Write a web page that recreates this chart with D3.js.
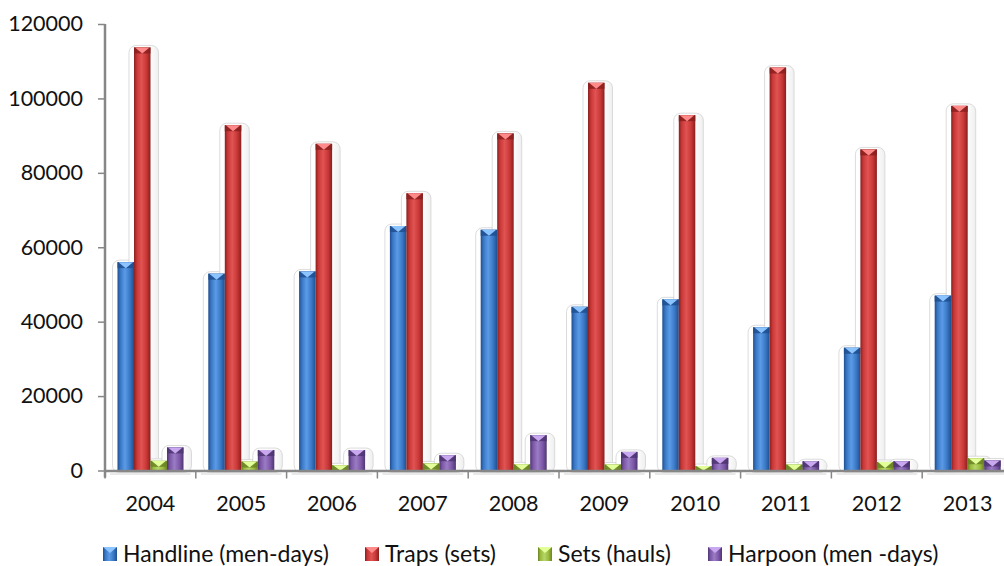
<!DOCTYPE html>
<html>
<head>
<meta charset="utf-8">
<script src="https://cdn.jsdelivr.net/npm/d3@7/dist/d3.min.js"></script>
<style>
  html, body { margin: 0; padding: 0; background: #ffffff; }
  svg { display: block; }
  text { font-family: "Lato", "Open Sans", sans-serif; fill: #111; }
</style>
</head>
<body>
<svg id="chart" width="1004" height="566"></svg>
<script>
// Fishing effort by gear type, 2004-2013
const years = ["2004", "2005", "2006", "2007", "2008", "2009", "2010", "2011", "2012", "2013"];
const seriesNames = ["Handline (men-days)", "Traps (sets)", "Sets (hauls)", "Harpoon (men -days)"];
const handline = [56000, 52900, 53500, 65700, 64700, 44000, 46000, 38500, 33000, 47000];
const traps    = [113700, 92800, 87800, 74500, 90600, 104200, 95500, 108300, 86300, 98000];
const sets     = [2600, 2400, 1400, 1900, 1650, 1600, 1200, 1600, 2300, 3300];
const harpoon  = [6200, 5500, 5500, 4100, 9500, 5000, 3400, 2500, 2500, 2700];
const yTicks   = [0, 20000, 40000, 60000, 80000, 100000, 120000];

const seriesValues = [handline, traps, sets, harpoon];
const palette = [
  { light: "#5b9be6", mid: "#3a78c6", dark: "#1f4f8f", cap: "#8cc4ff" },
  { light: "#e05453", mid: "#c93837", dark: "#8a1f1f", cap: "#ff8a8a" },
  { light: "#b5d66a", mid: "#9bbb3c", dark: "#6a8424", cap: "#e2ff9a" },
  { light: "#9a7cc4", mid: "#7d58a8", dark: "#4f3572", cap: "#c9a8f0" }
];

const svg = d3.select("#chart");
const defs = svg.append("defs");

palette.forEach((p, i) => {
  const g = defs.append("linearGradient").attr("id", "bar" + i)
    .attr("x1", "0%").attr("x2", "100%").attr("y1", "0%").attr("y2", "0%");
  g.append("stop").attr("offset", "0%").attr("stop-color", p.dark);
  g.append("stop").attr("offset", "18%").attr("stop-color", p.mid);
  g.append("stop").attr("offset", "45%").attr("stop-color", p.light);
  g.append("stop").attr("offset", "75%").attr("stop-color", p.mid);
  g.append("stop").attr("offset", "100%").attr("stop-color", p.dark);
});
const glow = defs.append("linearGradient").attr("id", "glow")
  .attr("x1", "0%").attr("x2", "100%");
glow.append("stop").attr("offset", "0%").attr("stop-color", "#ffffff");
glow.append("stop").attr("offset", "75%").attr("stop-color", "#fbfbfb");
glow.append("stop").attr("offset", "100%").attr("stop-color", "#efefef");

const x0 = d3.scaleBand().domain(years).range([105, 1013]).paddingInner(0).paddingOuter(0);
const x1 = d3.scaleBand().domain(d3.range(4)).range([12.5, 78.5]).padding(0);
const y = d3.scaleLinear().domain([0, 120000]).range([470.5, 24]);

const rows = years.map((yr, i) => ({ year: yr, vals: seriesValues.map(s => s[i]) }));

// soft rounded halos behind every bar
const halos = svg.append("g");
rows.forEach(r => {
  r.vals.forEach((v, k) => {
    const bx = x0(r.year) + x1(k);
    const top = y(v);
    halos.append("rect")
      .attr("x", bx - 5).attr("y", top - 2)
      .attr("width", x1.bandwidth() + 13)
      .attr("height", y(0) - top + 4)
      .attr("rx", 7).attr("ry", 7)
      .attr("fill", "url(#glow)")
      .attr("stroke", "#cdcdcd").attr("stroke-width", 0.7);
  });
});

// floor shadow under each category
svg.append("g").selectAll("line").data(years).join("line")
  .attr("x1", d => x0(d) + 5).attr("x2", d => x0(d) + x0.bandwidth() - 5)
  .attr("y1", 474).attr("y2", 474)
  .attr("stroke", "#d4d4d4").attr("stroke-width", 1.2);

// bars
const bars = svg.append("g");
rows.forEach(r => {
  r.vals.forEach((v, k) => {
    const bx = x0(r.year) + x1(k);
    const w = x1.bandwidth();
    const top = y(v);
    const h = y(0) - top;
    bars.append("rect")
      .attr("x", bx).attr("y", top).attr("width", w).attr("height", h)
      .attr("fill", "url(#bar" + k + ")");
    const capH = Math.min(6, h);
    bars.append("rect")
      .attr("x", bx).attr("y", top).attr("width", w).attr("height", capH)
      .attr("fill", palette[k].dark).attr("opacity", 0.85);
    bars.append("path")
      .attr("d", `M${bx + 1},${top} L${bx + w - 1},${top} L${bx + w / 2},${top + capH} Z`)
      .attr("fill", palette[k].cap);
  });
});

// y axis
const yAxis = svg.append("g").attr("transform", "translate(105,0)")
  .call(d3.axisLeft(y).tickValues(yTicks).tickSize(7).tickFormat(d3.format("d")));
yAxis.select(".domain").attr("stroke", "#878787").attr("stroke-width", 2.5)
  .attr("d", `M0,${y(120000)}V${y(0) + 7}`);
yAxis.selectAll(".tick line").attr("stroke", "#878787").attr("stroke-width", 1.5);
yAxis.selectAll(".tick text")
  .attr("x", -22)
  .style("font-size", "21.5px").style("font-family", "Lato, sans-serif").attr("fill", "#111");

// x axis
const xAxis = svg.append("g").attr("transform", "translate(0,471)")
  .call(d3.axisBottom(x0).tickSize(0).tickPadding(0));
xAxis.select(".domain").attr("stroke", "#878787").attr("stroke-width", 2.5)
  .attr("d", "M105,0H1013");
xAxis.selectAll(".tick text")
  .attr("y", 32).attr("dy", "0.35em")
  .style("font-size", "21.5px").style("font-family", "Lato, sans-serif").attr("fill", "#111");
// category separators
svg.append("g").selectAll("line").data(years).join("line")
  .attr("x1", d => x0(d)).attr("x2", d => x0(d))
  .attr("y1", 471).attr("y2", 478.5)
  .attr("stroke", "#878787").attr("stroke-width", 1.5);

// legend
const legendX = [103, 365, 538, 708];
const legend = svg.append("g");
seriesNames.forEach((name, k) => {
  const lx = legendX[k], ly = 547;
  legend.append("rect").attr("x", lx).attr("y", ly).attr("width", 14).attr("height", 14)
    .attr("fill", "url(#bar" + k + ")");
  legend.append("path")
    .attr("d", `M${lx},${ly} L${lx + 14},${ly} L${lx + 7},${ly + 6} Z`)
    .attr("fill", palette[k].cap);
  legend.append("text").attr("x", lx + 20).attr("y", ly + 7).attr("dy", "0.35em")
    .style("font-size", "23px").text(name);
});
</script>
</body>
</html>
